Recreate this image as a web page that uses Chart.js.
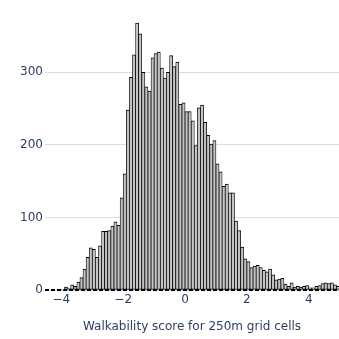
<!DOCTYPE html>
<html>
<head>
<meta charset="utf-8">
<title>Walkability histogram</title>
<script src="https://cdn.jsdelivr.net/npm/chart.js@4.4.0/dist/chart.umd.min.js"></script>
<style>
  html, body { margin: 0; padding: 0; background: #fff; }
  #wrap { width: 339px; height: 339px; }
</style>
</head>
<body>
<div id="wrap"><canvas id="hist-chart" width="339" height="339"></canvas></div>
<script>
// histogram bins: first left edge and width, one count per bin
const binStart = -4.0;
const binWidth = 0.1;
const counts = [
  1, 4, 2, 7, 5, 11, 17, 29, 45, 58,
  56, 45, 61, 81, 81, 82, 88, 94, 89, 127,
  160, 248, 293, 324, 368, 353, 300, 280, 274, 320,
  326, 328, 306, 292, 300, 323, 308, 314, 256, 258,
  246, 246, 233, 199, 251, 255, 231, 213, 201, 206,
  174, 163, 143, 146, 134, 134, 95, 82, 59, 43,
  39, 31, 33, 34, 31, 27, 25, 29, 21, 14,
  15, 16, 8, 5, 10, 4, 5, 4, 5, 6,
  3, 3, 5, 6, 9, 10, 9, 10, 7, 5
];

const xTicks = [-4, -2, 0, 2, 4];
const xTickLabels = ["\u22124", "\u22122", "0", "2", "4"];
const yTicks = [0, 100, 200, 300];
const xTitle = "Walkability score for 250m grid cells";

const textColor = "#2a3f5f";
const fontFamily = "'DejaVu Sans', Verdana, sans-serif";

// bar centres on a linear axis
const points = counts.map((c, i) => ({
  x: +(binStart + binWidth * (i + 0.5)).toFixed(3),
  y: c
}));

// dashed baseline at y = 0, drawn under the bars
const zeroLine = {
  id: "zeroLine",
  beforeDatasetsDraw(chart) {
    const { ctx, chartArea, scales } = chart;
    const y = scales.y.getPixelForValue(0);
    ctx.save();
    ctx.strokeStyle = "#000";
    ctx.lineWidth = 2;
    ctx.setLineDash([4, 2]);
    ctx.beginPath();
    ctx.moveTo(chartArea.left, y);
    ctx.lineTo(chartArea.right, y);
    ctx.stroke();
    ctx.restore();
  }
};

const config = {
  type: "bar",
  data: {
    datasets: [
      {
        data: points,
        backgroundColor: "#c4c4c4",
        borderColor: "#000",
        borderWidth: { top: 1, left: 0.75, right: 0.75, bottom: 1 },
        borderSkipped: false,
        barPercentage: 1.0,
        categoryPercentage: 1.0,
        grouped: false
      }
    ]
  },
  options: {
    responsive: false,
    animation: false,
    layout: { padding: { top: 8, left: 0, right: 0, bottom: 0 } },
    plugins: {
      legend: { display: false },
      tooltip: { enabled: false }
    },
    scales: {
      x: {
        type: "linear",
        min: -4.53,
        max: 4.98,
        offset: false,
        grid: { display: false, offset: false, drawTicks: false },
        border: { display: false },
        afterBuildTicks: (scale) => {
          scale.ticks = xTicks.map(v => ({ value: v }));
        },
        afterFit: (scale) => { scale.height = 49; },
        ticks: {
          color: textColor,
          font: { family: fontFamily, size: 12 },
          padding: 3,
          maxRotation: 0,
          callback: (v) => xTickLabels[xTicks.indexOf(v)]
        },
        title: {
          display: true,
          text: xTitle,
          color: textColor,
          font: { family: fontFamily, size: 12 },
          padding: { top: 0, bottom: 5 }
        }
      },
      y: {
        min: 0,
        max: 387,
        grid: { color: "#dcdcdc", drawTicks: false },
        border: { display: false },
        afterBuildTicks: (scale) => {
          scale.ticks = yTicks.map(v => ({ value: v }));
        },
        afterFit: (scale) => { scale.width = 45; },
        ticks: {
          color: textColor,
          font: { family: fontFamily, size: 12 },
          padding: 2
        }
      }
    }
  },
  plugins: [zeroLine]
};

const ctx = document.getElementById("hist-chart").getContext("2d");
window.histChart = new Chart(ctx, config);
</script>
</body>
</html>
